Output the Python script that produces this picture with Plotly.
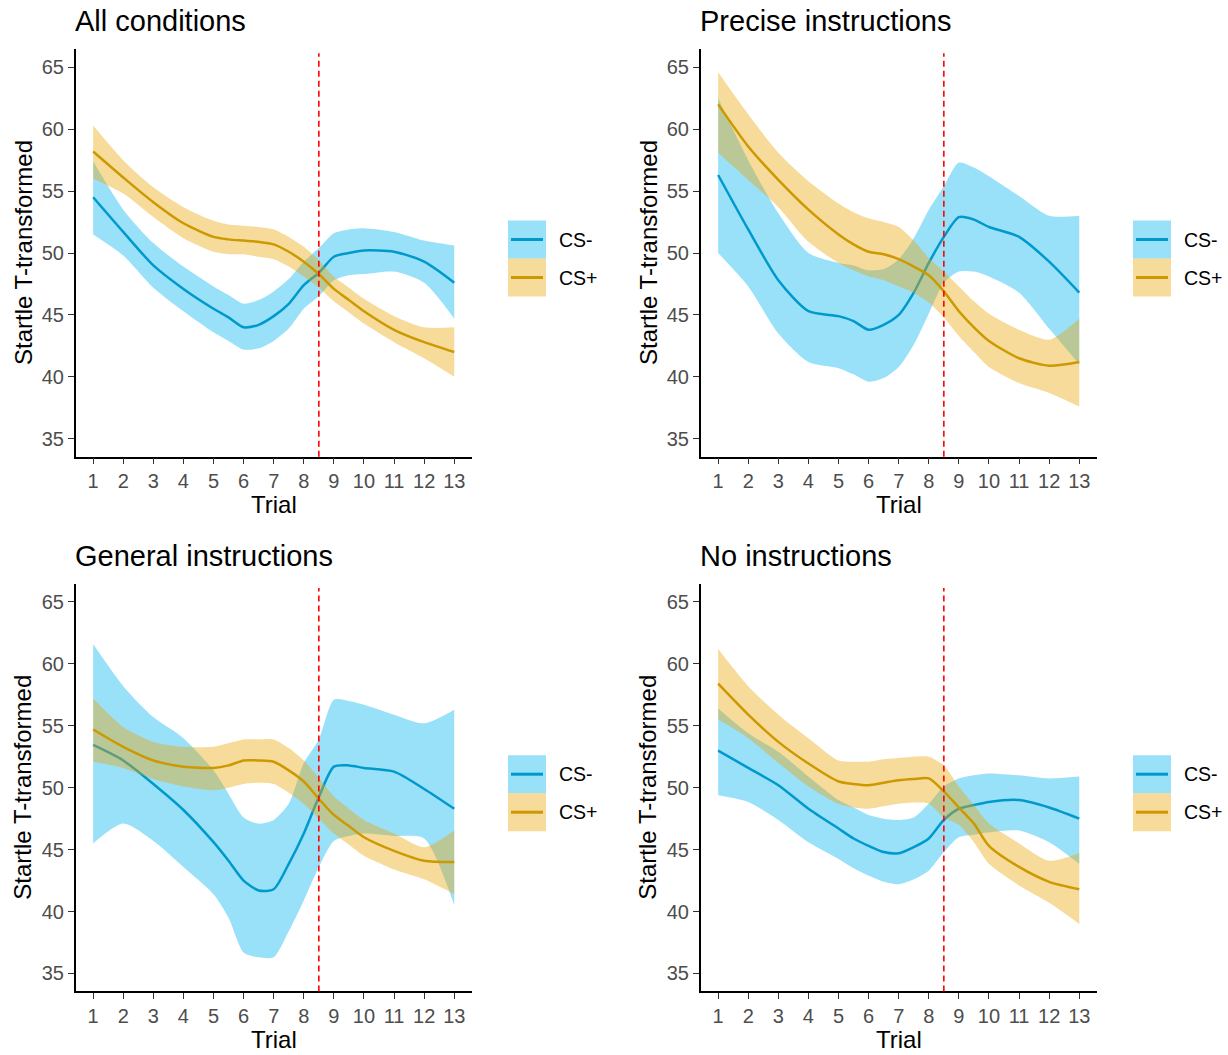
import plotly.graph_objects as go

# ---------------- data ----------------
TRIALS = [1, 2, 3, 4, 5, 5.5, 6, 6.5, 7, 7.5, 8, 8.5, 9, 9.5, 10, 11, 12, 13]
TICK_TRIALS = list(range(1, 14))
Y_TICKS = [35, 40, 45, 50, 55, 60, 65]
GROUPS = ["CS-", "CS+"]
PANEL_TITLES = ["All conditions", "Precise instructions", "General instructions", "No instructions"]

# All conditions
ALL_CSM_MEAN = [54.5, 51.7, 49.0, 47.1, 45.5, 44.8, 44.0, 44.2, 44.9, 45.9, 47.4, 48.4, 49.7, 50.0, 50.2, 50.1, 49.3, 47.6]
ALL_CSM_UP   = [57.4, 53.5, 50.8, 48.9, 47.3, 46.6, 45.9, 46.2, 46.9, 47.9, 49.3, 50.4, 51.6, 51.9, 52.0, 51.7, 51.0, 50.6]
ALL_CSM_LO   = [51.5, 49.8, 47.2, 45.3, 43.6, 42.9, 42.2, 42.3, 42.9, 43.9, 45.5, 46.5, 47.8, 48.2, 48.3, 48.5, 47.6, 44.7]
ALL_CSP_MEAN = [58.2, 56.1, 54.1, 52.4, 51.3, 51.1, 51.0, 50.9, 50.7, 50.1, 49.3, 48.3, 47.1, 46.2, 45.3, 43.8, 42.8, 42.0]
ALL_CSP_UP   = [60.3, 57.5, 55.3, 53.7, 52.6, 52.3, 52.2, 52.1, 51.9, 51.3, 50.5, 49.4, 48.1, 47.2, 46.3, 44.9, 44.0, 44.0]
ALL_CSP_LO   = [56.0, 54.8, 52.9, 51.2, 50.1, 49.9, 49.9, 49.7, 49.5, 48.9, 48.1, 47.2, 46.1, 45.2, 44.3, 42.8, 41.5, 40.0]

# Precise instructions
PRE_CSM_MEAN = [56.3, 51.9, 47.8, 45.3, 44.9, 44.5, 43.8, 44.2, 45.0, 46.8, 49.2, 51.3, 52.9, 52.7, 52.1, 51.3, 49.3, 46.8]
PRE_CSM_UP   = [62.5, 57.5, 53.2, 50.0, 49.2, 49.0, 48.6, 48.7, 49.5, 51.2, 53.5, 55.4, 57.3, 56.9, 56.2, 54.6, 53.0, 53.0]
PRE_CSM_LO   = [50.0, 47.3, 43.5, 41.2, 40.7, 40.2, 39.6, 39.9, 40.8, 42.6, 45.1, 47.6, 48.5, 48.5, 48.1, 46.8, 43.9, 41.0]
PRE_CSP_MEAN = [62.0, 58.6, 55.9, 53.5, 51.5, 50.7, 50.1, 49.9, 49.5, 48.9, 48.2, 46.9, 45.3, 44.0, 42.9, 41.5, 40.9, 41.2]
PRE_CSP_UP   = [64.6, 61.2, 58.1, 55.8, 54.0, 53.3, 52.8, 52.5, 52.1, 51.0, 49.6, 48.5, 47.3, 46.1, 45.1, 43.8, 43.0, 44.7]
PRE_CSP_LO   = [58.1, 55.9, 53.7, 50.9, 49.2, 48.6, 48.1, 47.8, 47.3, 46.8, 46.0, 44.8, 43.3, 42.0, 40.8, 39.5, 38.7, 37.6]

# General instructions
GEN_CSM_MEAN = [53.45, 52.2, 50.3, 48.2, 45.6, 44.1, 42.5, 41.7, 41.8, 43.85, 46.3, 49.25, 51.7, 51.8, 51.6, 51.3, 49.9, 48.3]
GEN_CSM_UP   = [61.6, 58.2, 55.7, 54.0, 51.4, 49.5, 47.6, 47.1, 47.4, 48.7, 52.0, 53.9, 57.1, 57.0, 56.7, 55.9, 55.2, 56.3]
GEN_CSM_LO   = [45.5, 47.1, 45.7, 43.6, 41.4, 39.5, 36.7, 36.3, 36.3, 38.4, 40.9, 43.6, 45.7, 46.1, 46.3, 46.1, 45.9, 40.5]
GEN_CSP_MEAN = [54.7, 53.3, 52.2, 51.7, 51.6, 51.8, 52.2, 52.2, 52.1, 51.4, 50.5, 49.1, 47.8, 46.9, 46.0, 44.9, 44.1, 44.0]
GEN_CSP_UP   = [57.2, 54.9, 53.7, 53.3, 53.3, 53.6, 53.9, 53.9, 53.9, 53.2, 52.2, 50.8, 49.3, 48.3, 47.4, 46.3, 45.2, 46.55]
GEN_CSP_LO   = [52.1, 51.6, 50.7, 50.1, 49.8, 50.0, 50.3, 50.4, 50.3, 49.6, 48.7, 47.5, 46.3, 45.4, 44.5, 43.4, 42.6, 41.4]

# No instructions
NON_CSM_MEAN = [53.0, 51.6, 50.2, 48.3, 46.7, 45.9, 45.3, 44.8, 44.7, 45.2, 45.9, 47.4, 48.3, 48.6, 48.85, 49.0, 48.4, 47.5]
NON_CSM_UP   = [56.4, 54.4, 52.9, 50.9, 49.0, 48.4, 47.8, 47.5, 47.4, 47.6, 48.7, 50.1, 50.75, 51.0, 51.15, 51.0, 50.75, 50.9]
NON_CSM_LO   = [49.4, 48.85, 47.4, 45.6, 44.25, 43.5, 42.9, 42.4, 42.2, 42.6, 43.3, 44.8, 46.0, 46.2, 46.4, 46.55, 45.6, 43.85]
NON_CSP_MEAN = [58.4, 55.9, 53.7, 51.95, 50.5, 50.3, 50.2, 50.4, 50.6, 50.7, 50.75, 49.7, 48.4, 47.1, 45.3, 43.6, 42.4, 41.8]
NON_CSP_UP   = [61.2, 58.2, 55.9, 54.0, 52.2, 52.1, 52.1, 52.3, 52.4, 52.5, 52.5, 51.8, 50.1, 48.6, 47.1, 45.5, 44.1, 44.7]
NON_CSP_LO   = [55.5, 54.0, 52.0, 50.1, 48.7, 48.4, 48.3, 48.5, 48.7, 48.8, 48.7, 47.6, 47.0, 45.6, 43.85, 42.1, 40.7, 39.0]

CHANGE_TRIAL = 8.5

# ---------------- styling ----------------
W, H = 1228, 1055
FONT = "Liberation Sans, Arial, sans-serif"
LINE_COL = {"CS-": "#0099CC", "CS+": "#CC9900"}
FILL_COL = {"CS-": "rgba(0,178,240,0.4)", "CS+": "rgba(235,165,5,0.4)"}

def fx(px):
    return px / W

def fy(py):
    return 1 - py / H

# panel pixel geometry (top-left panel), offsets for others
AX_L, AX_R, AX_T, AX_B = 75.7, 471.7, 49.3, 456.7
OFFSETS = [(0, 0), (625, 0), (0, 534.7), (625, 534.7)]

panel_data = [
    [(ALL_CSM_LO, ALL_CSM_UP, ALL_CSM_MEAN), (ALL_CSP_LO, ALL_CSP_UP, ALL_CSP_MEAN)],
    [(PRE_CSM_LO, PRE_CSM_UP, PRE_CSM_MEAN), (PRE_CSP_LO, PRE_CSP_UP, PRE_CSP_MEAN)],
    [(GEN_CSM_LO, GEN_CSM_UP, GEN_CSM_MEAN), (GEN_CSP_LO, GEN_CSP_UP, GEN_CSP_MEAN)],
    [(NON_CSM_LO, NON_CSM_UP, NON_CSM_MEAN), (NON_CSP_LO, NON_CSP_UP, NON_CSP_MEAN)],
]

fig = go.Figure()
shapes = []
annotations = []
layout_axes = {}

for i, (title, groups, (ox, oy)) in enumerate(zip(PANEL_TITLES, panel_data, OFFSETS)):
    n = "" if i == 0 else str(i + 1)
    xa, ya = "x" + n, "y" + n
    for g, (lo, up, mean) in zip(GROUPS, groups):
        fig.add_trace(go.Scatter(x=TRIALS, y=lo, mode="lines", xaxis=xa, yaxis=ya,
                                 line=dict(width=0, shape="spline", smoothing=0.7),
                                 showlegend=False, hoverinfo="skip"))
        fig.add_trace(go.Scatter(x=TRIALS, y=up, mode="lines", xaxis=xa, yaxis=ya,
                                 fill="tonexty", fillcolor=FILL_COL[g],
                                 line=dict(width=0, shape="spline", smoothing=0.7),
                                 showlegend=False, hoverinfo="skip"))
        fig.add_trace(go.Scatter(x=TRIALS, y=mean, mode="lines", xaxis=xa, yaxis=ya,
                                 name=g, line=dict(color=LINE_COL[g], width=2.5,
                                                   shape="spline", smoothing=0.7),
                                 showlegend=False))
    axis_common = dict(showline=True, linecolor="black", linewidth=1.5, showgrid=False,
                       zeroline=False, ticks="outside", ticklen=6, tickwidth=1.3,
                       tickcolor="#333333",
                       tickfont=dict(family=FONT, size=20, color="#4D4D4D"))
    layout_axes["xaxis" + n] = dict(axis_common, domain=[fx(AX_L + ox), fx(AX_R + ox)],
                                    range=[0.42, 13.58], tickvals=TICK_TRIALS,
                                    anchor=ya)
    layout_axes["yaxis" + n] = dict(axis_common, domain=[fy(AX_B + oy), fy(AX_T + oy)],
                                    range=[33.55, 66.45], tickvals=Y_TICKS,
                                    anchor=xa)
    # change point
    shapes.append(dict(type="line", xref=xa, yref=ya + " domain", x0=CHANGE_TRIAL,
                       x1=CHANGE_TRIAL, y0=0, y1=0.99,
                       line=dict(color="#FF0000", width=1.6, dash="6px,4px")))
    # panel title
    annotations.append(dict(text=title, xref="paper", yref="paper", x=fx(73 + ox),
                            y=fy(21 + oy), xanchor="left", yanchor="middle",
                            showarrow=False, font=dict(family=FONT, size=29, color="black")))
    # axis titles
    annotations.append(dict(text="Trial", xref="paper", yref="paper",
                            x=fx((AX_L + AX_R) / 2 + ox), y=fy(505 + oy),
                            xanchor="center", yanchor="middle", showarrow=False,
                            font=dict(family=FONT, size=24, color="black")))
    annotations.append(dict(text="Startle T-transformed", xref="paper", yref="paper",
                            x=fx(23 + ox), y=fy((AX_T + AX_B) / 2 + oy), textangle=-90,
                            xanchor="center", yanchor="middle", showarrow=False,
                            font=dict(family=FONT, size=24, color="black")))
    # legend (ggplot-style keys)
    for k, g in enumerate(GROUPS):
        top = 220.5 + 38 * k + oy
        shapes.append(dict(type="rect", xref="paper", yref="paper",
                           x0=fx(508 + ox), x1=fx(546 + ox), y0=fy(top + 38), y1=fy(top),
                           fillcolor=FILL_COL[g], line=dict(width=0), layer="below"))
        shapes.append(dict(type="line", xref="paper", yref="paper",
                           x0=fx(511 + ox), x1=fx(543 + ox), y0=fy(top + 19), y1=fy(top + 19),
                           line=dict(color=LINE_COL[g], width=3)))
        annotations.append(dict(text=g, xref="paper", yref="paper", x=fx(557 + ox),
                                y=fy(top + 19), xanchor="left", yanchor="middle",
                                showarrow=False,
                                font=dict(family=FONT, size=19.5, color="black")))

fig.update_layout(width=W, height=H, margin=dict(l=0, r=0, t=0, b=0),
                  paper_bgcolor="white", plot_bgcolor="white", showlegend=False,
                  shapes=shapes, annotations=annotations, **layout_axes)

fig.write_html("out.html", config={"displayModeBar": False},
               post_script="document.body.style.margin='0px';document.body.style.overflow='hidden';")
